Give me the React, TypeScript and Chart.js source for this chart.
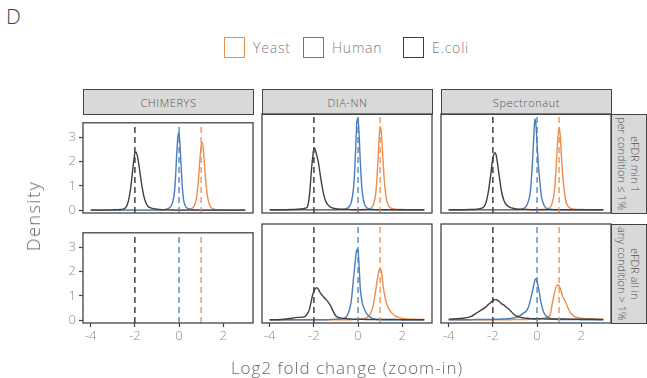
import React, { useEffect, useRef } from 'react';
import { Chart, registerables } from 'chart.js';
Chart.register(...registerables);

// ---------- data ----------
const xGrid = [
  -4, -3.5, -3, -2.75, -2.5, -2.4, -2.3, -2.2, -2.1, -2.05,
  -2, -1.95, -1.9, -1.85, -1.8, -1.7, -1.6, -1.5, -1.4, -1.25,
  -1, -0.8, -0.6, -0.5, -0.4, -0.3, -0.2, -0.15, -0.1, -0.05,
  0, 0.05, 0.1, 0.15, 0.2, 0.3, 0.4, 0.5, 0.6, 0.7,
  0.8, 0.85, 0.9, 0.95, 1, 1.05, 1.1, 1.15, 1.2, 1.3,
  1.4, 1.5, 1.7, 2, 2.5, 3,
];

const xTickValues = [-4, -2, 0, 2];
const yTickValues = [0, 1, 2, 3];
const speciesNames = ['Yeast', 'Human', 'E.coli'];
const expectedLog2FC = [1, 0, -2];
const softwareNames = ['CHIMERYS', 'DIA-NN', 'Spectronaut'];
const filterLabels = [
  ['eFDR min 1', 'per condition \u2264 1%'],
  ['eFDR all in', 'any condition > 1%'],
];

// eFDR min 1 per condition <= 1%
const chimerysMinYeast = [
  0, 0, 0, 0, 0, 0, 0, 0, 0, 0,
  0, 0, 0, 0, 0, 0, 0, 0, 0, 0,
  0, 0, 0, 0, 0, 0, 0, 0, 0, 0,
  0, 0, 0, 0, 0.01, 0.01, 0.02, 0.04, 0.08, 0.2,
  0.55, 0.95, 1.5, 2.15, 2.65, 2.8, 2.5, 1.9, 1.3, 0.5,
  0.18, 0.07, 0.02, 0.01, 0, 0,
];
const chimerysMinHuman = [
  0, 0, 0, 0, 0, 0, 0, 0, 0, 0,
  0, 0, 0, 0, 0, 0, 0, 0, 0, 0,
  0, 0.01, 0.03, 0.06, 0.12, 0.3, 0.8, 1.5, 2.4, 3.05,
  3.2, 2.6, 1.7, 0.95, 0.45, 0.15, 0.07, 0.04, 0.02, 0.01,
  0, 0, 0, 0, 0, 0, 0, 0, 0, 0,
  0, 0, 0, 0, 0, 0,
];
const chimerysMinEcoli = [
  0, 0, 0.01, 0.02, 0.05, 0.12, 0.35, 0.85, 1.65, 2.05,
  2.35, 2.4, 2.28, 2.05, 1.75, 1.1, 0.6, 0.3, 0.15, 0.08,
  0.04, 0.02, 0.01, 0.01, 0.01, 0.01, 0, 0, 0, 0,
  0, 0, 0, 0, 0, 0, 0, 0, 0, 0,
  0, 0, 0, 0, 0, 0, 0, 0, 0, 0,
  0, 0, 0, 0, 0, 0,
];
const diannMinYeast = [
  0, 0, 0, 0, 0, 0, 0, 0, 0, 0,
  0, 0, 0, 0, 0, 0, 0, 0, 0, 0,
  0, 0, 0, 0, 0, 0, 0, 0, 0, 0,
  0, 0, 0, 0, 0.01, 0.01, 0.02, 0.04, 0.08, 0.2,
  0.6, 1.1, 1.8, 2.6, 3.12, 2.95, 2.3, 1.6, 1.0, 0.35,
  0.13, 0.06, 0.02, 0.01, 0, 0,
];
const diannMinHuman = [
  0, 0, 0, 0, 0, 0, 0, 0, 0, 0,
  0, 0, 0, 0, 0, 0, 0, 0, 0, 0,
  0, 0.01, 0.03, 0.05, 0.12, 0.3, 0.85, 1.5, 2.45, 3.35,
  3.42, 2.8, 1.85, 1.1, 0.6, 0.2, 0.08, 0.04, 0.02, 0.01,
  0, 0, 0, 0, 0, 0, 0, 0, 0, 0,
  0, 0, 0, 0, 0, 0,
];
const diannMinEcoli = [
  0, 0, 0.01, 0.02, 0.04, 0.06, 0.1, 0.55, 1.6, 2.0,
  2.3, 2.3, 2.15, 1.98, 1.8, 1.25, 0.75, 0.4, 0.22, 0.1,
  0.04, 0.02, 0.01, 0.01, 0.01, 0, 0, 0, 0, 0,
  0, 0, 0, 0, 0, 0, 0, 0, 0, 0,
  0, 0, 0, 0, 0, 0, 0, 0, 0, 0,
  0, 0, 0, 0, 0, 0,
];
const spectronautMinYeast = [
  0, 0, 0, 0, 0, 0, 0, 0, 0, 0,
  0, 0, 0, 0, 0, 0, 0, 0, 0, 0,
  0, 0, 0, 0, 0, 0, 0, 0, 0, 0,
  0, 0, 0, 0.01, 0.01, 0.01, 0.02, 0.05, 0.1, 0.3,
  0.8, 1.4, 2.1, 2.75, 3.1, 2.8, 2.1, 1.45, 0.95, 0.35,
  0.14, 0.06, 0.02, 0.01, 0, 0,
];
const spectronautMinHuman = [
  0, 0, 0, 0, 0, 0, 0, 0, 0, 0,
  0, 0, 0, 0, 0, 0, 0, 0, 0, 0,
  0, 0.01, 0.05, 0.12, 0.3, 0.7, 1.9, 2.7, 3.42, 3.2,
  2.5, 1.8, 1.3, 0.85, 0.5, 0.2, 0.08, 0.03, 0.02, 0.01,
  0, 0, 0, 0, 0, 0, 0, 0, 0, 0,
  0, 0, 0, 0, 0, 0,
];
const spectronautMinEcoli = [
  0, 0, 0.01, 0.02, 0.06, 0.12, 0.3, 0.7, 1.3, 1.65,
  1.95, 2.1, 2.15, 2.05, 1.8, 1.2, 0.65, 0.35, 0.2, 0.1,
  0.04, 0.02, 0.01, 0.01, 0.01, 0, 0, 0, 0, 0,
  0, 0, 0, 0, 0, 0, 0, 0, 0, 0,
  0, 0, 0, 0, 0, 0, 0, 0, 0, 0,
  0, 0, 0, 0, 0, 0,
];

// eFDR all in any condition > 1%
const diannAllYeast = [
  0, 0, 0, 0, 0, 0, 0, 0, 0, 0,
  0, 0, 0, 0, 0, 0, 0, 0, 0, 0,
  0, 0, 0, 0, 0, 0, 0.01, 0.01, 0.01, 0.01,
  0.01, 0.01, 0.02, 0.02, 0.03, 0.05, 0.08, 0.15, 0.3, 0.6,
  1.1, 1.4, 1.65, 1.85, 1.92, 1.85, 1.55, 1.2, 0.95, 0.6,
  0.4, 0.28, 0.14, 0.05, 0.02, 0.01,
];
const diannAllHuman = [
  0, 0, 0, 0, 0, 0, 0, 0, 0, 0,
  0, 0, 0, 0, 0, 0, 0, 0, 0, 0.01,
  0.02, 0.03, 0.06, 0.15, 0.35, 0.75, 1.6, 2.0, 2.4, 2.65,
  2.6, 2.0, 1.2, 0.85, 0.6, 0.38, 0.22, 0.13, 0.07, 0.04,
  0.02, 0.01, 0.01, 0.01, 0.01, 0, 0, 0, 0, 0,
  0, 0, 0, 0, 0, 0,
];
const diannAllEcoli = [
  0, 0.01, 0.06, 0.09, 0.1, 0.13, 0.22, 0.4, 0.78, 0.95,
  1.07, 1.15, 1.2, 1.2, 1.15, 1.0, 0.9, 0.8, 0.72, 0.53,
  0.14, 0.07, 0.05, 0.04, 0.03, 0.03, 0.02, 0.02, 0.02, 0.02,
  0.02, 0.02, 0.02, 0.02, 0.02, 0.01, 0.01, 0.01, 0.01, 0.01,
  0.01, 0.01, 0.01, 0.01, 0.01, 0.01, 0.01, 0.01, 0.01, 0.01,
  0.01, 0.01, 0.01, 0, 0, 0,
];
const spectronautAllYeast = [
  0, 0, 0, 0, 0, 0, 0, 0, 0, 0,
  0, 0, 0, 0, 0, 0, 0, 0, 0, 0,
  0.01, 0.01, 0.01, 0.01, 0.01, 0.02, 0.02, 0.02, 0.02, 0.02,
  0.03, 0.03, 0.03, 0.04, 0.05, 0.06, 0.08, 0.11, 0.2, 0.65,
  1.05, 1.2, 1.28, 1.31, 1.28, 1.18, 1.05, 0.92, 0.82, 0.65,
  0.45, 0.28, 0.12, 0.06, 0.03, 0.02,
];
const spectronautAllHuman = [
  0, 0, 0, 0.01, 0.01, 0.01, 0.01, 0.01, 0.01, 0.01,
  0.02, 0.02, 0.02, 0.02, 0.02, 0.02, 0.03, 0.03, 0.04, 0.05,
  0.08, 0.15, 0.26, 0.32, 0.45, 0.75, 1.1, 1.3, 1.48, 1.54,
  1.45, 1.25, 1.05, 0.78, 0.58, 0.28, 0.15, 0.09, 0.05, 0.03,
  0.02, 0.02, 0.01, 0.01, 0.01, 0.01, 0.01, 0.01, 0.01, 0.01,
  0.01, 0.01, 0.01, 0, 0, 0,
];
const spectronautAllEcoli = [
  0.02, 0.05, 0.12, 0.25, 0.38, 0.43, 0.5, 0.58, 0.65, 0.69,
  0.72, 0.75, 0.76, 0.76, 0.74, 0.68, 0.6, 0.55, 0.48, 0.38,
  0.17, 0.1, 0.07, 0.06, 0.05, 0.045, 0.04, 0.04, 0.04, 0.04,
  0.04, 0.04, 0.04, 0.04, 0.04, 0.035, 0.03, 0.03, 0.03, 0.03,
  0.03, 0.03, 0.03, 0.03, 0.03, 0.03, 0.03, 0.03, 0.03, 0.03,
  0.02, 0.02, 0.02, 0.02, 0.02, 0.01,
];

// ---------- styling / layout ----------
const COLORS = ['#ef8d4c', '#4c7dbb', '#404040'];
const FONT = "'Open Sans', sans-serif";
const X_MIN = -4.35;
const X_MAX = 3.35;
const Y_MIN = -0.12;
const Y_MAX = 3.6;

const PANEL_X = [83, 262, 441];
const PANEL_Y = [114, 224];
const PANEL_W = 170;
const PANEL_H = 99;
const ML = 40;
const MR = 2;
const MT = 2;
const MB = 30;

const LEGEND_BOX_X = [224, 303, 403];

type PanelDef = { row: number; col: number; series: number[][] };

const panelDefs: PanelDef[] = [
  { row: 0, col: 0, series: [chimerysMinYeast, chimerysMinHuman, chimerysMinEcoli] },
  { row: 0, col: 1, series: [diannMinYeast, diannMinHuman, diannMinEcoli] },
  { row: 0, col: 2, series: [spectronautMinYeast, spectronautMinHuman, spectronautMinEcoli] },
  { row: 1, col: 0, series: [] },
  { row: 1, col: 1, series: [diannAllYeast, diannAllHuman, diannAllEcoli] },
  { row: 1, col: 2, series: [spectronautAllYeast, spectronautAllHuman, spectronautAllEcoli] },
];

const framePlugin = {
  id: 'frame',
  afterDatasetsDraw(chart: any) {
    const { ctx, chartArea } = chart;
    ctx.save();
    ctx.strokeStyle = '#444444';
    ctx.lineWidth = 1.3;
    ctx.strokeRect(chartArea.left, chartArea.top, chartArea.right - chartArea.left, chartArea.bottom - chartArea.top);
    ctx.restore();
  },
};

function Panel({ def }: { def: PanelDef }) {
  const ref = useRef<HTMLCanvasElement>(null);
  const W = PANEL_W + ML + MR;
  const H = PANEL_H + MT + MB;
  const showX = def.row === 1;
  const showY = def.col === 0;

  useEffect(() => {
    if (!ref.current) return;
    const datasets: any[] = [];
    // dashed reference lines (drawn on top)
    [2, 1, 0].forEach((s) => {
      datasets.push({
        label: speciesNames[s] + ' expected',
        data: [
          { x: expectedLog2FC[s], y: Y_MIN },
          { x: expectedLog2FC[s], y: Y_MAX },
        ],
        borderColor: COLORS[s],
        borderWidth: s === 2 ? 1.5 : 1.3,
        borderDash: [6, 4],
        pointRadius: 0,
        fill: false,
      });
    });
    // density curves: E.coli on top, then Human, Yeast
    [2, 1, 0].forEach((s) => {
      const ys = def.series[s];
      if (!ys) return;
      datasets.push({
        label: speciesNames[s],
        data: xGrid.map((x, i) => ({ x, y: ys[i] })),
        borderColor: COLORS[s],
        borderWidth: 1.4,
        pointRadius: 0,
        fill: false,
        cubicInterpolationMode: 'monotone',
      });
    });

    const tickFont = { family: FONT, size: 13, weight: 300 as any };
    const chart = new Chart(ref.current, {
      type: 'line',
      data: { datasets },
      plugins: [framePlugin],
      options: {
        responsive: false,
        animation: false,
        devicePixelRatio: 1,
        layout: { padding: { left: 0, right: MR, top: MT, bottom: 0 }, autoPadding: false } as any,
        plugins: { legend: { display: false }, tooltip: { enabled: false } },
        scales: {
          x: {
            type: 'linear',
            min: X_MIN,
            max: X_MAX,
            afterFit: (s: any) => {
              s.height = MB;
            },
            afterBuildTicks: (s: any) => {
              s.ticks = xTickValues.map((v) => ({ value: v }));
            },
            grid: { display: showX, drawOnChartArea: false, drawTicks: true, tickLength: 4, tickColor: '#444444', tickWidth: 1.2 },
            border: { display: false },
            ticks: { display: showX, color: '#8a8a8a', font: tickFont, padding: 1, maxRotation: 0, autoSkip: false },
          },
          y: {
            type: 'linear',
            min: Y_MIN,
            max: Y_MAX,
            afterFit: (s: any) => {
              s.width = ML;
            },
            afterBuildTicks: (s: any) => {
              s.ticks = yTickValues.map((v) => ({ value: v }));
            },
            grid: { display: showY, drawOnChartArea: false, drawTicks: true, tickLength: 4, tickColor: '#444444', tickWidth: 1.2 },
            border: { display: false },
            ticks: { display: showY, color: '#8a8a8a', font: tickFont, padding: 3, autoSkip: false },
          },
        },
      } as any,
    });
    return () => chart.destroy();
  }, []);

  return (
    <canvas
      ref={ref}
      width={W}
      height={H}
      style={{ position: 'absolute', left: PANEL_X[def.col] - ML, top: PANEL_Y[def.row] - MT, width: W, height: H }}
    />
  );
}

const stripBase: React.CSSProperties = {
  position: 'absolute',
  background: '#d9d9d9',
  border: '1.3px solid #444444',
  boxSizing: 'border-box',
  display: 'flex',
  alignItems: 'center',
  justifyContent: 'center',
  color: '#555555',
  fontFamily: FONT,
  fontWeight: 300,
  fontSize: 11,
};

export default function App() {
  return (
    <div style={{ position: 'absolute', left: 0, top: 0, width: 647, height: 378, background: '#ffffff', overflow: 'hidden', fontFamily: FONT }}>
      <div style={{ position: 'absolute', left: 6, top: 2, fontSize: 21, fontWeight: 300, color: '#444444' }}>D</div>

      {/* legend */}
      {speciesNames.map((n, i) => (
        <React.Fragment key={n}>
          <div
            style={{
              position: 'absolute',
              left: LEGEND_BOX_X[i],
              top: 37,
              width: 21,
              height: 21,
              border: `1.4px solid ${COLORS[i]}`,
              boxSizing: 'border-box',
            }}
          />
          <div
            style={{
              position: 'absolute',
              left: LEGEND_BOX_X[i] + 29,
              top: 47,
              transform: 'translateY(-50%)',
              fontSize: 14,
              fontWeight: 300,
              color: '#808080',
              letterSpacing: '0.8px',
              whiteSpace: 'nowrap',
            }}
          >
            {n}
          </div>
        </React.Fragment>
      ))}

      {/* top strips */}
      {softwareNames.map((n, c) => (
        <div key={n} style={{ ...stripBase, left: PANEL_X[c], top: 89, width: PANEL_W + 1, height: 26, letterSpacing: '0.6px' }}>
          {n}
        </div>
      ))}

      {/* right strips */}
      {filterLabels.map((lines, r) => (
        <div key={r} style={{ ...stripBase, left: PANEL_X[2] + PANEL_W, top: PANEL_Y[r], width: 36, height: PANEL_H + 1 }}>
          <div style={{ writingMode: 'vertical-rl', textAlign: 'center', lineHeight: '13px', whiteSpace: 'nowrap' }}>
            {lines[0]}
            <br />
            {lines[1]}
          </div>
        </div>
      ))}

      {panelDefs.map((d, i) => (
        <Panel key={i} def={d} />
      ))}

      {/* axis titles */}
      <div
        style={{
          position: 'absolute',
          left: 33,
          top: 216,
          transform: 'translate(-50%, -50%) rotate(-90deg)',
          fontSize: 18,
          fontWeight: 300,
          color: '#666666',
          letterSpacing: '1.5px',
          whiteSpace: 'nowrap',
        }}
      >
        Density
      </div>
      <div
        style={{
          position: 'absolute',
          left: 347,
          top: 367,
          transform: 'translate(-50%, -50%)',
          fontSize: 17,
          fontWeight: 300,
          color: '#666666',
          letterSpacing: '1px',
          whiteSpace: 'nowrap',
        }}
      >
        Log2 fold change (zoom-in)
      </div>
    </div>
  );
}
